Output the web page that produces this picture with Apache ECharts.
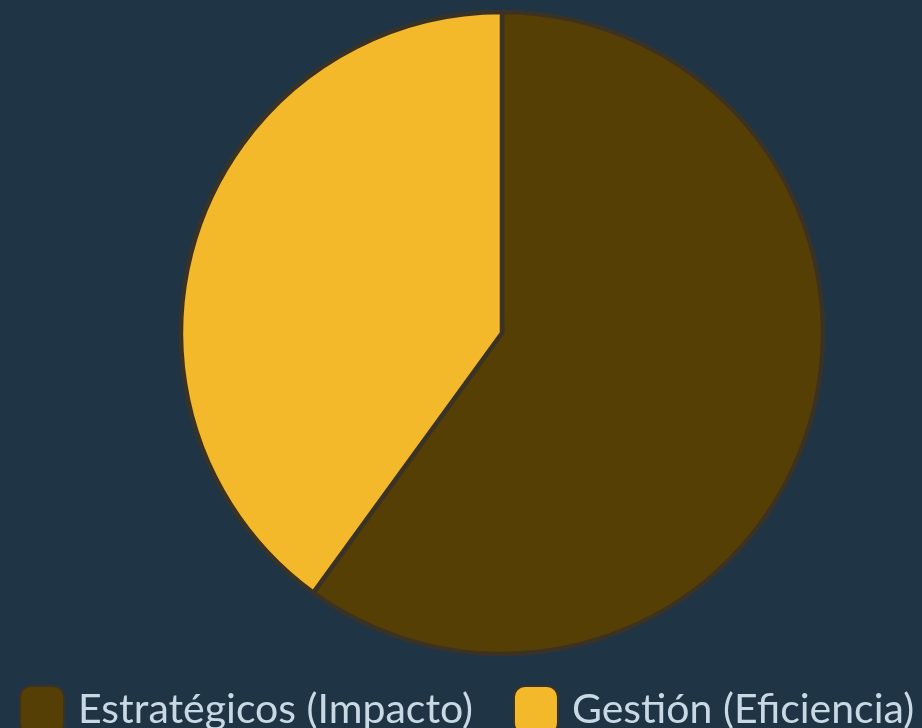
<!DOCTYPE html>
<html><head><meta charset="utf-8">
<script src="https://cdn.jsdelivr.net/npm/echarts@6/dist/echarts.min.js"></script>
<style>html,body{margin:0;padding:0;background:#1f3444;}#c{width:922px;height:728px;}</style>
</head><body><div id="c"></div>
<script>
const categories = ['Estratégicos (Impacto)', 'Gestión (Eficiencia)'];
const values = [60, 40];
const colors = ['#563f05', '#f4b92b'];
const chart = echarts.init(document.getElementById('c'));
chart.setOption({
  backgroundColor: '#1f3444',
  animation: false,
  legend: {
    data: categories,
    left: 14,
    top: 680,
    width: 1000,
    itemWidth: 44,
    itemHeight: 48,
    itemGap: 40,
    icon: 'roundRect',
    textStyle: { color: '#c8d9e4', fontSize: 41, fontFamily: 'Lato', padding: [0,0,16,9] }
  },
  series: [{
    type: 'pie',
    center: [502, 333],
    radius: [0, 321],
    startAngle: 90,
    clockwise: true,
    label: { show: false },
    labelLine: { show: false },
    itemStyle: { borderColor: '#3a3325', borderWidth: 4.5 },
    data: categories.map((n, i) => ({ name: n, value: values[i], itemStyle: { color: colors[i] } }))
  }]
});
</script></body></html>
